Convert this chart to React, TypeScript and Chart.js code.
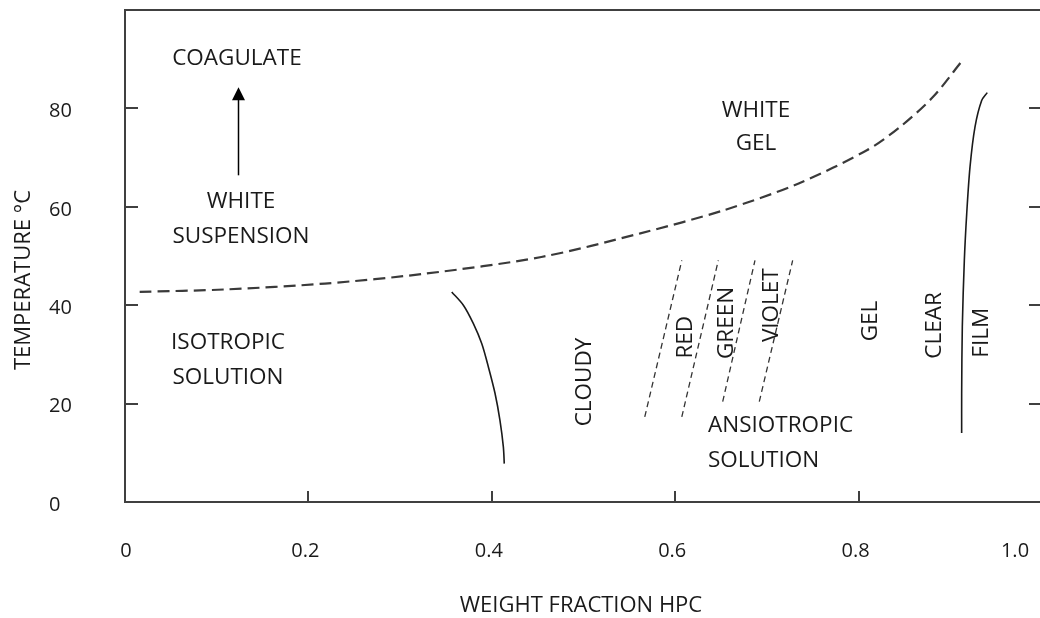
import { useEffect, useRef } from 'react';
import { Chart, registerables } from 'chart.js';

Chart.register(...registerables);

const FONT = '"Open Sans", "Liberation Sans", sans-serif';
const INK = '#1a1a1a';
const AXIS = '#404040';

// Axis ticks
const xTicks = [0, 0.2, 0.4, 0.6, 0.8, 1.0];
const xTickLabels = ['0', '0.2', '0.4', '0.6', '0.8', '1.0'];
const yTicks = [0, 20, 40, 60, 80];
const yTickLabels = ['0', '20', '40', '60', '80'];

// Upper boundary (dashed): solution / white gel
const upperX = [0.016, 0.109, 0.218, 0.327, 0.454, 0.562, 0.653, 0.734, 0.809, 0.845, 0.881, 0.913];
const upperY = [42.7, 43.2, 44.4, 46.4, 49.8, 54.6, 59.3, 64.7, 71.5, 76.2, 82.3, 89.7];

// Isotropic / anisotropic boundary (solid)
const isoX = [0.3563, 0.369, 0.3798, 0.389, 0.3962, 0.4035, 0.4089, 0.4126, 0.4136];
const isoY = [42.7, 40.0, 36.3, 32.2, 27.5, 22.1, 16.6, 11.2, 7.8];

// Gel / film boundary (solid)
const filmX = [0.9403, 0.9342, 0.9269, 0.9215, 0.9179, 0.9153, 0.9131, 0.9124, 0.9124];
const filmY = [83.2, 81.6, 76.2, 68.1, 58.6, 49.1, 35.6, 22.1, 14.0];

// Colour band boundaries (short dashed lines)
const bandTopX = [0.6072, 0.647, 0.687, 0.7281];
const bandTopY = [49.1, 49.1, 49.1, 49.1];
const bandBottomX = [0.5668, 0.6072, 0.6518, 0.6917];
const bandBottomY = [17.3, 17.3, 20.4, 20.4];

// Region labels (horizontal)
const flatTexts = ['COAGULATE', 'WHITE', 'SUSPENSION', 'ISOTROPIC', 'SOLUTION', 'WHITE', 'GEL', 'ANSIOTROPIC', 'SOLUTION'];
const flatX = [0.1221, 0.1265, 0.1265, 0.1123, 0.1123, 0.6881, 0.6881, 0.6358, 0.6358];
const flatY = [90.2, 61.1, 54.0, 32.3, 25.2, 79.6, 72.8, 15.6, 8.5];
const flatAlign: CanvasTextAlign[] = ['center', 'center', 'center', 'center', 'center', 'center', 'center', 'left', 'left'];

// Region labels (vertical)
const vertTexts = ['CLOUDY', 'RED', 'GREEN', 'VIOLET', 'GEL', 'CLEAR', 'FILM'];
const vertX = [0.5016, 0.6118, 0.6562, 0.705, 0.8135, 0.8833, 0.9342];
const vertY = [24.4, 33.5, 36.4, 40.0, 36.8, 35.9, 34.4];

// Arrow from white suspension up to coagulate
const arrowX = 0.1236;
const arrowFromY = 66.4;
const arrowToY = 84.3;

const xTitle = 'WEIGHT FRACTION HPC';
const yTitle = 'TEMPERATURE °C';

const pts = (xs: number[], ys: number[]) => xs.map((x, i) => ({ x, y: ys[i] }));

const decorations = {
  id: 'phaseDecorations',
  afterDraw(chart: any) {
    const { ctx, chartArea: a, scales } = chart;
    const xs = scales.x;
    const ys = scales.y;
    ctx.save();

    // frame
    ctx.strokeStyle = AXIS;
    ctx.lineWidth = 2;
    ctx.strokeRect(a.left, a.top, a.right - a.left, a.bottom - a.top);

    // inward tick marks
    ctx.beginPath();
    yTicks.forEach((v) => {
      if (v === 0) return;
      const py = Math.round(ys.getPixelForValue(v));
      ctx.moveTo(a.left, py);
      ctx.lineTo(a.left + 13, py);
      ctx.moveTo(a.right, py);
      ctx.lineTo(a.right - 13, py);
    });
    xTicks.forEach((v) => {
      if (v === 0) return;
      const px = Math.round(xs.getPixelForValue(v));
      ctx.moveTo(px, a.bottom);
      ctx.lineTo(px, a.bottom - 11);
    });
    ctx.stroke();

    // tick labels
    ctx.fillStyle = INK;
    ctx.font = `500 20px ${FONT}`;
    ctx.textBaseline = 'middle';
    ctx.textAlign = 'left';
    yTicks.forEach((v, i) => {
      ctx.fillText(yTickLabels[i], 49, ys.getPixelForValue(v) + 3);
    });
    ctx.textAlign = 'center';
    xTicks.forEach((v, i) => {
      const px = Math.max(126, Math.min(xs.getPixelForValue(v) - 3, 1015));
      ctx.fillText(xTickLabels[i], px, 551);
    });

    // axis titles
    ctx.font = `500 22px ${FONT}`;
    ctx.fillText(xTitle, 581, 606);
    ctx.save();
    ctx.translate(24, 280);
    ctx.rotate(-Math.PI / 2);
    ctx.fillText(yTitle, 0, 0);
    ctx.restore();

    // region labels
    ctx.font = `500 22.5px ${FONT}`;
    flatTexts.forEach((t, i) => {
      ctx.textAlign = flatAlign[i];
      ctx.fillText(t, xs.getPixelForValue(flatX[i]), ys.getPixelForValue(flatY[i]));
    });
    ctx.textAlign = 'center';
    vertTexts.forEach((t, i) => {
      ctx.save();
      ctx.translate(xs.getPixelForValue(vertX[i]), ys.getPixelForValue(vertY[i]));
      ctx.rotate(-Math.PI / 2);
      ctx.fillText(t, 0, 0);
      ctx.restore();
    });

    // arrow
    const ax = Math.round(xs.getPixelForValue(arrowX)) + 0.5;
    const ay0 = ys.getPixelForValue(arrowFromY);
    const ay1 = ys.getPixelForValue(arrowToY);
    ctx.strokeStyle = '#000';
    ctx.fillStyle = '#000';
    ctx.lineWidth = 1.5;
    ctx.beginPath();
    ctx.moveTo(ax, ay0);
    ctx.lineTo(ax, ay1 + 10);
    ctx.stroke();
    ctx.beginPath();
    ctx.moveTo(ax, ay1);
    ctx.lineTo(ax - 6.5, ay1 + 13);
    ctx.lineTo(ax + 6.5, ay1 + 13);
    ctx.closePath();
    ctx.fill();

    ctx.restore();
  },
};

export default function App() {
  const ref = useRef<HTMLCanvasElement>(null);

  useEffect(() => {
    if (!ref.current) return;
    const bandSets = bandTopX.map((_, i) => ({
      data: pts([bandBottomX[i], bandTopX[i]], [bandBottomY[i], bandTopY[i]]),
      borderColor: '#333',
      borderWidth: 1.3,
      borderDash: [6, 4],
      pointRadius: 0,
      showLine: true,
      fill: false,
    }));
    const chart = new Chart(ref.current, {
      type: 'scatter',
      data: {
        datasets: [
          {
            data: pts(upperX, upperY),
            borderColor: '#3a3a3a',
            borderWidth: 2.2,
            borderDash: [12, 6],
            pointRadius: 0,
            showLine: true,
            tension: 0.3,
            fill: false,
          },
          {
            data: pts(isoX, isoY),
            borderColor: '#1a1a1a',
            borderWidth: 1.6,
            pointRadius: 0,
            showLine: true,
            tension: 0.3,
            fill: false,
          },
          {
            data: pts(filmX, filmY),
            borderColor: '#1a1a1a',
            borderWidth: 1.6,
            pointRadius: 0,
            showLine: true,
            tension: 0.3,
            fill: false,
          },
          ...bandSets,
        ],
      },
      options: {
        animation: false,
        responsive: false,
        events: [],
        layout: { padding: { left: 125, right: 58, top: 10, bottom: 116 } },
        plugins: { legend: { display: false }, tooltip: { enabled: false } },
        scales: {
          x: { type: 'linear', min: 0, max: 1, display: false },
          y: { type: 'linear', min: 0, max: 100, display: false },
        },
      },
      plugins: [decorations],
    });
    return () => chart.destroy();
  }, []);

  return (
    <div
      style={{
        position: 'fixed',
        left: 0,
        top: 0,
        width: 1040,
        height: 618,
        overflow: 'hidden',
        background: '#fff',
      }}
    >
      <canvas ref={ref} width={1100} height={618} style={{ display: 'block' }} />
    </div>
  );
}
